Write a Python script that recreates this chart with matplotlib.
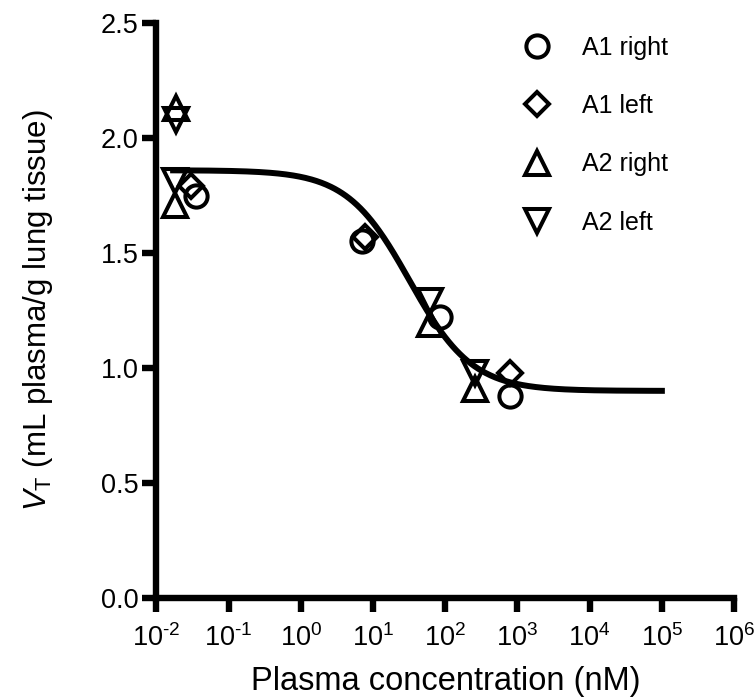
import numpy as np
import matplotlib
matplotlib.use("Agg")
import matplotlib.pyplot as plt
from matplotlib.ticker import LogLocator, FuncFormatter, NullLocator

plt.rcParams["font.family"] = ["Liberation Sans", "DejaVu Sans"]
plt.rcParams["mathtext.fontset"] = "custom"
plt.rcParams["mathtext.rm"] = "Liberation Sans"
plt.rcParams["mathtext.it"] = "Liberation Sans:italic"

# measured points (plasma conc in nM, VT)
a1_right_x = [0.035, 7.0, 85, 790]
a1_right_y = [1.75, 1.55, 1.22, 0.88]
a1_left_x = [0.030, 7.7, 790]
a1_left_y = [1.79, 1.57, 0.98]
a2_right_x = [0.0185, 0.018, 62, 257]
a2_right_y = [2.13, 1.71, 1.19, 0.91]
a2_left_x = [0.0185, 0.018, 62, 257]
a2_left_y = [2.08, 1.815, 1.29, 0.98]

# fitted Hill curve parameters
top = 1.86
bottom = 0.90
ic50 = 32.0
hill = 1.0
fit_range = (0.017, 1e5)


def pow10(v, pos):
    e = int(round(np.log10(v)))
    if e < 0:
        return r"$10^{\text{-}%d}$" % (-e)
    return r"$10^{%d}$" % e


fig = plt.figure(figsize=(7.56, 7.00), dpi=100)
ax = fig.add_axes([0.207, 0.146, 0.764, 0.821])

xc = np.logspace(np.log10(fit_range[0]), np.log10(fit_range[1]), 400)
yc = bottom + (top - bottom) / (1 + (xc / ic50) ** hill)
ax.plot(xc, yc, color="black", lw=4.3, zorder=2)

mk = dict(linestyle="none", markerfacecolor="none", markeredgecolor="black",
          markeredgewidth=2.9, zorder=3)
ax.plot(a1_right_x, a1_right_y, marker="o", markersize=16, label="A1 right", **mk)
ax.plot(a1_left_x, a1_left_y, marker="D", markersize=12.5, label="A1 left", **mk)
ax.plot(a2_right_x, a2_right_y, marker="^", markersize=17, label="A2 right", **mk)
ax.plot(a2_left_x, a2_left_y, marker="v", markersize=17, label="A2 left", **mk)

ax.set_xscale("log")
ax.set_xlim(1e-2, 1e6)
ax.set_ylim(0, 2.5)
ax.xaxis.set_major_locator(LogLocator(base=10, numticks=20))
ax.xaxis.set_major_formatter(FuncFormatter(pow10))
ax.xaxis.set_minor_locator(NullLocator())
ax.set_yticks([0.0, 0.5, 1.0, 1.5, 2.0, 2.5])
ax.set_yticklabels(["0.0", "0.5", "1.0", "1.5", "2.0", "2.5"])

for s in ["top", "right"]:
    ax.spines[s].set_visible(False)
for s in ["left", "bottom"]:
    ax.spines[s].set_linewidth(4.6)
ax.tick_params(axis="both", which="major", direction="out", length=10, width=4.6,
               labelsize=19.5, pad=3)
ax.tick_params(axis="x", pad=9)

ax.set_xlabel("Plasma concentration (nM)", fontsize=23.5, labelpad=10)
ax.set_ylabel(r"$V_\mathrm{T}$ (mL plasma/g lung tissue)", fontsize=22.5, labelpad=33)

ax.legend(loc="upper left", frameon=False, fontsize=18, handlelength=2.0,
          handletextpad=0.8, labelspacing=1.37, borderaxespad=0.0,
          borderpad=0.4, bbox_to_anchor=(0.598, 0.995))

fig.savefig("out.png", dpi=100)
